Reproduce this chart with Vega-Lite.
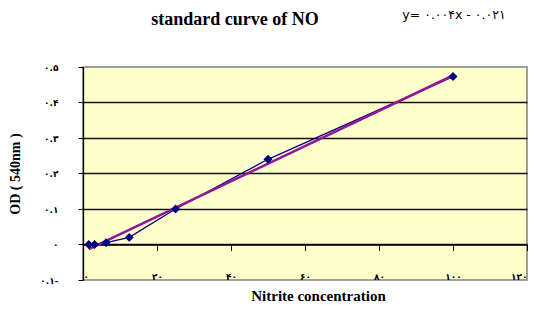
{
  "$schema": "https://vega.github.io/schema/vega-lite/v6.json",
  "width": 444,
  "height": 213,
  "autosize": {"type": "none"},
  "padding": {"left": 83, "top": 67, "right": 10, "bottom": 39},
  "background": "white",
  "config": {
    "view": {"fill": "#FFFFCC", "stroke": "#808080", "strokeWidth": 1.5},
    "axis": {"labelFont": "DejaVu Sans", "labelFontWeight": "bold", "labelFontSize": 9, "labelColor": "black", "titleFont": "Liberation Serif", "titleFontWeight": "bold", "titleColor": "black"}
  },
  "title": {
    "text": "standard curve of NO",
    "font": "Liberation Serif",
    "fontWeight": "bold",
    "fontSize": 18,
    "color": "black",
    "anchor": "middle",
    "frame": "group",
    "dx": -70,
    "offset": -20
  },
  "datasets": {
    "std": [
      {"conc": 1.56, "od": 0.0},
      {"conc": 3.125, "od": 0.0},
      {"conc": 6.25, "od": 0.005},
      {"conc": 12.5, "od": 0.02},
      {"conc": 25, "od": 0.1},
      {"conc": 50, "od": 0.24},
      {"conc": 100, "od": 0.473}
    ],
    "trend": [
      {"conc": 1.56, "od": -0.013},
      {"conc": 100, "od": 0.476}
    ],
    "eq": [
      {"conc": 100, "od": 0.476, "label": "y= ۰.۰۰۴x - ۰.۰۲۱"}
    ]
  },
  "encoding": {
    "y": {
      "field": "od",
      "type": "quantitative",
      "scale": {"domain": [-0.1, 0.5], "nice": false, "zero": false},
      "axis": {
        "values": [-0.1, 0, 0.1, 0.2, 0.3, 0.4, 0.5],
        "labelExpr": "datum.value == 0.5 ? '۰.۵' : datum.value == 0.4 ? '۰.۴' : datum.value == 0.3 ? '۰.۳' : datum.value == 0.2 ? '۰.۲' : datum.value == 0.1 ? '۰.۱' : datum.value == 0 ? '۰' : '۰.۱-'",
        "grid": true,
        "gridColor": "#111111",
        "gridWidth": 1.3,
        "gridOpacity": {"condition": {"test": "datum.value > 0.45 || datum.value < -0.05", "value": 0}, "value": 1},
        "domainColor": "black",
        "domainWidth": 1.3,
        "tickColor": "black",
        "tickSize": 5,
        "labelPadding": 20,
        "title": "OD ( 540nm )",
        "titleFontSize": 14,
        "titlePadding": 17
      }
    }
  },
  "resolve": {"axis": {"x": "independent"}},
  "layer": [
    {
      "data": {"name": "std"},
      "mark": {"type": "line", "color": "#000080", "strokeWidth": 1.3},
      "encoding": {
        "x": {
          "field": "conc",
          "type": "quantitative",
          "scale": {"domain": [0, 120], "nice": false},
          "axis": {
            "orient": "bottom",
            "values": [0, 20, 40, 60, 80, 100, 120],
            "labels": false,
            "grid": false,
            "ticks": true,
            "tickSize": 6,
            "tickColor": "black",
            "domain": true,
            "domainColor": "black",
            "domainWidth": 1.3,
            "offset": -35.5,
            "title": null
          }
        }
      }
    },
    {
      "data": {"name": "trend"},
      "mark": {"type": "line", "color": "#931593", "strokeWidth": 2.6},
      "encoding": {
        "x": {
          "field": "conc",
          "type": "quantitative",
          "axis": {
            "orient": "bottom",
            "values": [0, 20, 40, 60, 80, 100, 120],
            "labelExpr": "datum.value == 0 ? '۰' : datum.value == 20 ? '۲۰' : datum.value == 40 ? '۴۰' : datum.value == 60 ? '۶۰' : datum.value == 80 ? '۸۰' : datum.value == 100 ? '۱۰۰' : '۱۲۰'",
            "labelPadding": -8,
            "labelBaseline": "top",
            "ticks": false,
            "domain": false,
            "grid": false,
            "title": "Nitrite concentration",
            "titleFontSize": 15,
            "titleX": 235,
            "titleY": 20,
            "titleBaseline": "alphabetic",
            "titleAlign": "center",
            "titleAnchor": null
          }
        }
      }
    },
    {
      "data": {"name": "std"},
      "mark": {"type": "point", "shape": "diamond", "filled": true, "color": "#000080", "opacity": 1, "size": 80},
      "encoding": {
        "x": {"field": "conc", "type": "quantitative", "axis": null}
      }
    },
    {
      "data": {"name": "eq"},
      "mark": {"type": "text", "font": "DejaVu Sans", "fontSize": 12.5, "color": "black", "align": "center", "baseline": "middle", "dx": 1, "dy": -61},
      "encoding": {
        "x": {"field": "conc", "type": "quantitative", "axis": null},
        "text": {"field": "label"}
      }
    }
  ]
}
